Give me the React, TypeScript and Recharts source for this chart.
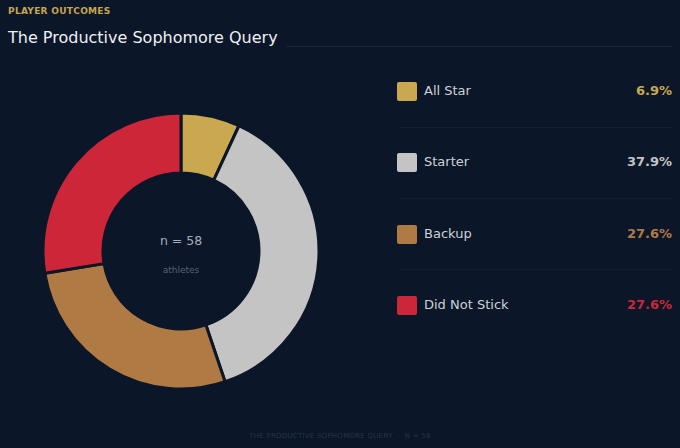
import { Cell, Pie, PieChart } from "recharts";

const categories = ["All Star", "Starter", "Backup", "Did Not Stick"];
const counts = [4, 22, 16, 16];
const colors = ["#c9a84f", "#c4c4c4", "#b07a45", "#cc2638"];
const total = 58;

const data = categories.map((name, i) => ({ name, value: counts[i] }));
const pct = (v: number) => ((v / total) * 100).toFixed(1) + "%";

const FONT = "'DejaVu Sans', sans-serif";
const BG = "#0b1628";

export default function App() {
  return (
    <div
      style={{
        position: "fixed",
        left: 0,
        top: 0,
        width: 680,
        height: 448,
        background: BG,
        fontFamily: FONT,
        overflow: "hidden",
      }}
    >
      <div
        style={{
          position: "absolute",
          left: 8,
          top: 6,
          fontSize: 9,
          fontWeight: 700,
          letterSpacing: 0.3,
          color: "#c9a54e",
        }}
      >
        PLAYER OUTCOMES
      </div>
      <div
        style={{
          position: "absolute",
          left: 8,
          top: 28,
          fontSize: 16,
          color: "#eef0f4",
          whiteSpace: "nowrap",
        }}
      >
        The Productive Sophomore Query
      </div>
      <div
        style={{
          position: "absolute",
          left: 286,
          top: 46,
          width: 386,
          height: 1,
          background: "#1a2638",
        }}
      />

      <div style={{ position: "absolute", left: 0, top: 0 }}>
        <PieChart width={362} height={448} margin={{ top: 0, right: 0, bottom: 0, left: 0 }}>
          <Pie
            data={data}
            dataKey="value"
            nameKey="name"
            cx={181}
            cy={251}
            innerRadius={78}
            outerRadius={138}
            startAngle={90}
            endAngle={-270}
            stroke={BG}
            strokeWidth={3}
            isAnimationActive={false}
          >
            {data.map((d, i) => (
              <Cell key={d.name} fill={colors[i]} />
            ))}
          </Pie>
        </PieChart>
      </div>

      <div
        style={{
          position: "absolute",
          left: 131,
          width: 100,
          top: 233,
          textAlign: "center",
          fontSize: 12.5,
          lineHeight: "16px",
          color: "#a7adb8",
        }}
      >
        n = {total}
      </div>
      <div
        style={{
          position: "absolute",
          left: 131,
          width: 100,
          top: 264,
          textAlign: "center",
          fontSize: 9,
          lineHeight: "12px",
          color: "#566276",
        }}
      >
        athletes
      </div>

      {data.map((d, i) => (
        <div key={d.name}>
          <div
            style={{
              position: "absolute",
              left: 397,
              top: 82 + i * 71.3,
              width: 20,
              height: 19,
              borderRadius: 2,
              background: colors[i],
            }}
          />
          <div
            style={{
              position: "absolute",
              left: 424,
              top: 81 + i * 71.3,
              height: 19,
              lineHeight: "19px",
              fontSize: 13,
              color: "#cdd1d8",
            }}
          >
            {d.name}
          </div>
          <div
            style={{
              position: "absolute",
              right: 8,
              top: 81 + i * 71.3,
              height: 19,
              lineHeight: "19px",
              fontSize: 13,
              fontWeight: 700,
              color: colors[i],
            }}
          >
            {pct(d.value)}
          </div>
          {i < data.length - 1 && (
            <div
              style={{
                position: "absolute",
                left: 400,
                top: 126.5 + i * 71.3,
                width: 272,
                height: 1,
                background: "#131f33",
              }}
            />
          )}
        </div>
      ))}

      <div
        style={{
          position: "absolute",
          left: 0,
          width: 680,
          top: 432,
          textAlign: "center",
          fontSize: 7,
          letterSpacing: 0.25,
          color: "#27344a",
          whiteSpace: "pre",
        }}
      >
        {"THE PRODUCTIVE SOPHOMORE QUERY  ·  N = " + total}
      </div>
    </div>
  );
}
